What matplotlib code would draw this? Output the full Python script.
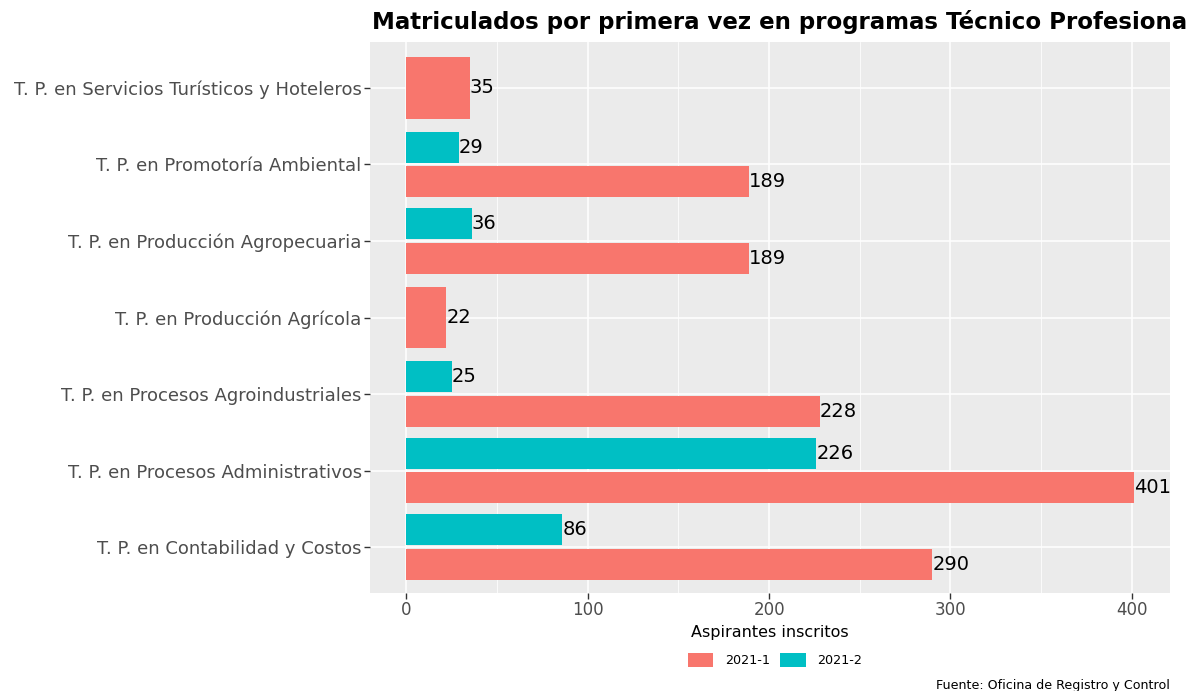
import matplotlib.pyplot as plt
import numpy as np
from matplotlib.patches import Patch

plt.rcParams['font.family'] = ['DejaVu Sans']

# categories listed bottom -> top (as drawn by ggplot coord_flip)
programas = ['T. P. en Contabilidad y Costos',
             'T. P. en Procesos Administrativos',
             'T. P. en Procesos Agroindustriales',
             'T. P. en Producción Agrícola',
             'T. P. en Producción Agropecuaria',
             'T. P. en Promotoría Ambiental',
             'T. P. en Servicios Turísticos y Hoteleros']
periodo_1 = [290, 401, 228, 22, 189, 189, 35]        # 2021-1
periodo_2 = [86, 226, 25, None, 36, 29, None]        # 2021-2

c1 = '#F8766D'
c2 = '#00BFC4'

W, H = 1186, 691
fig = plt.figure(figsize=(W/100, H/100), dpi=100)
ax = fig.add_axes([370/W, 98/H, 800/W, 551/H])
ax.set_facecolor('#EBEBEB')

y = np.arange(len(programas))
full = 0.9
pad = 0.1
for i in range(len(programas)):
    v1 = periodo_1[i]
    v2 = periodo_2[i]
    if v2 is None:
        # single bar takes the whole slot (dodge2)
        h = full*(1-pad)
        ax.barh(y[i], v1, height=h, color=c1, zorder=3)
        ax.text(v1, y[i], str(v1), va='center', ha='left', fontsize=14, zorder=4)
    else:
        h = full/2*(1-pad)
        off = full/4
        ax.barh(y[i]-off, v1, height=h, color=c1, zorder=3)
        ax.barh(y[i]+off, v2, height=h, color=c2, zorder=3)
        ax.text(v1, y[i]-off, str(v1), va='center', ha='left', fontsize=14, zorder=4)
        ax.text(v2, y[i]+off, str(v2), va='center', ha='left', fontsize=14, zorder=4)

ax.set_xlim(-20.05, 421.05)
ax.set_ylim(-0.6, len(programas)-1+0.6)
ax.set_yticks(y)
ax.set_yticklabels(programas)
ax.set_xticks([0, 100, 200, 300, 400])
ax.set_xticks([50, 150, 250, 350], minor=True)
ax.grid(True, which='major', color='white', linewidth=1.1, zorder=0)
ax.grid(True, which='minor', axis='x', color='white', linewidth=0.55, zorder=0)
ax.set_axisbelow(True)
for s in ax.spines.values():
    s.set_visible(False)
ax.tick_params(axis='both', which='major', colors='#333333', length=4, width=1,
               labelsize=13, labelcolor='#4D4D4D', pad=2)
ax.tick_params(axis='x', which='minor', length=0)
ax.tick_params(axis='x', labelsize=12)

ax.set_xlabel('Aspirantes inscritos', fontsize=11.5, labelpad=4)
fig.text(372/W, 1-22/H, 'Matriculados por primera vez en programas Técnico Profesionales',
         fontsize=16.5, fontweight='bold', va='center', ha='left')

handles = [Patch(facecolor=c1, label='2021-1'), Patch(facecolor=c2, label='2021-2')]
fig.legend(handles=handles, loc='center', bbox_to_anchor=(775/W, 1-660/H), ncol=2,
           frameon=False, fontsize=9.2, handlelength=2.0, handleheight=1.4,
           columnspacing=0.8, handletextpad=0.9)

fig.text(1170/W, 1-686/H, 'Fuente: Oficina de Registro y Control', fontsize=9.1,
         ha='right', va='center')

fig.savefig('out.png', dpi=100)
